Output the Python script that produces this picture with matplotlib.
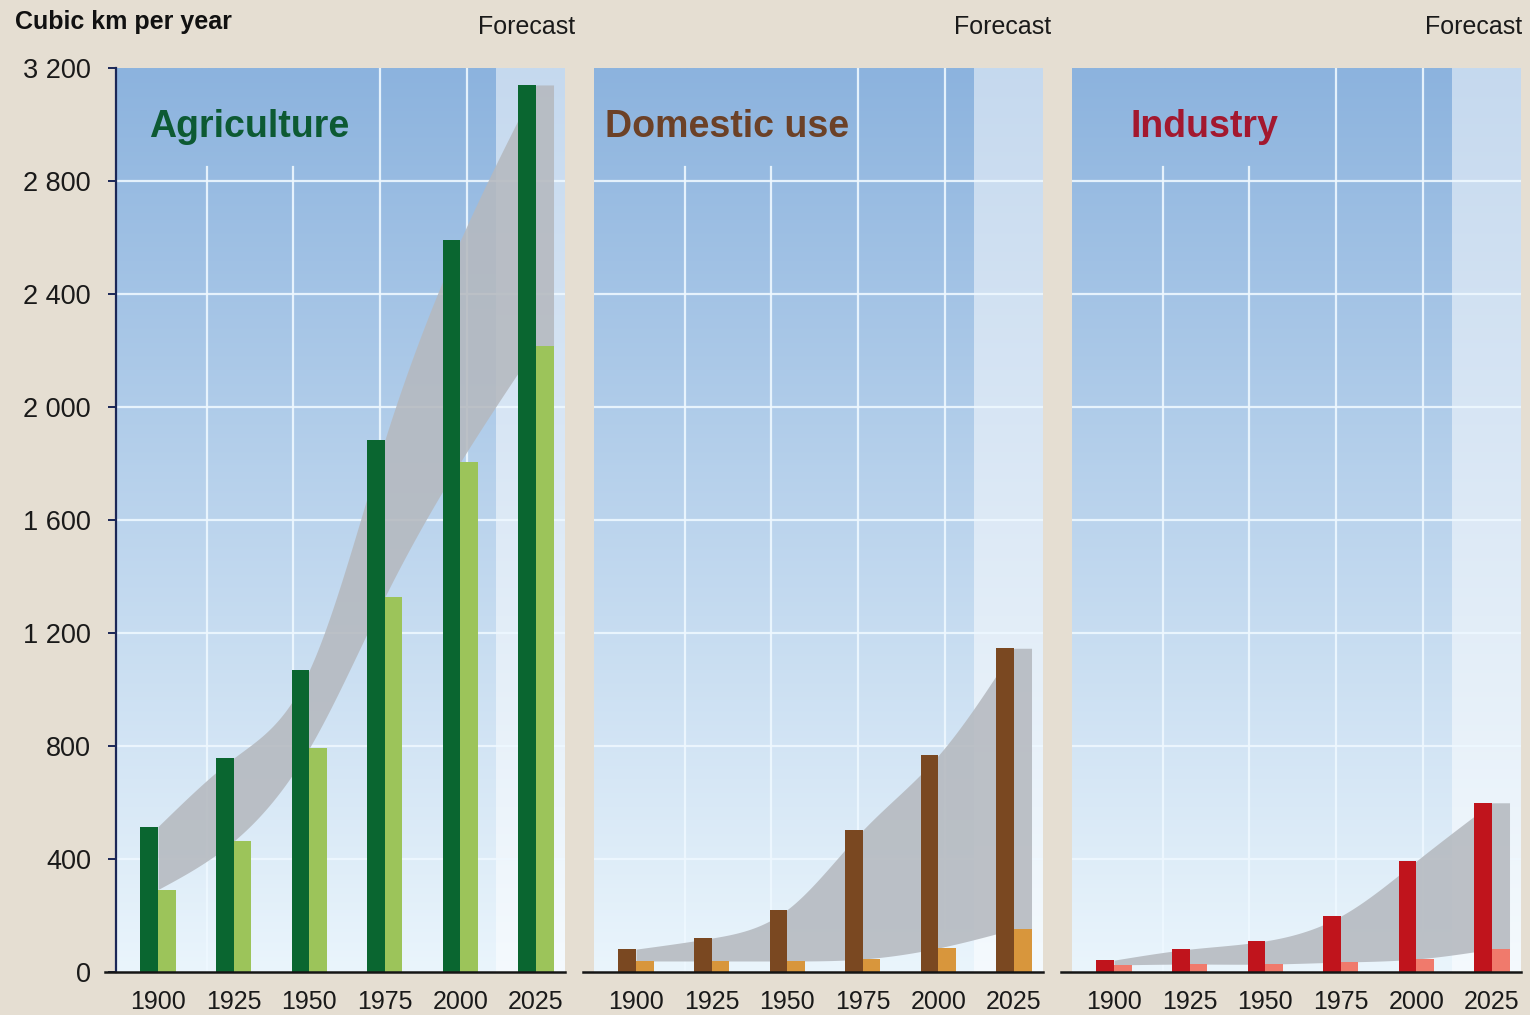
import numpy as np
import matplotlib
matplotlib.use("Agg")
import matplotlib.pyplot as plt
from matplotlib.colors import to_rgb
from matplotlib.lines import Line2D

# ---------------- data ----------------
years = [1900, 1925, 1950, 1975, 2000, 2025]
year_labels = ["1900", "1925", "1950", "1975", "2000", "2025"]
sectors = ["Agriculture", "Domestic use", "Industry"]

agri_withdrawal = [515, 757, 1068, 1883, 2590, 3140]
agri_consumption = [292, 463, 792, 1327, 1805, 2215]
dom_withdrawal = [81, 120, 221, 502, 767, 1146]
dom_consumption = [39, 39, 39, 46, 85, 152]
ind_withdrawal = [42, 81, 110, 198, 393, 599]
ind_consumption = [25, 28, 28, 35, 46, 81]

y_ticks = [0, 400, 800, 1200, 1600, 2000, 2400, 2800, 3200]
y_tick_labels = ["0", "400", "800", "1 200", "1 600", "2 000", "2 400", "2 800", "3 200"]
forecast_start = 2011.8
unit_label = "Cubic km per year"
forecast_label = "Forecast"

withdrawals = [agri_withdrawal, dom_withdrawal, ind_withdrawal]
consumptions = [agri_consumption, dom_consumption, ind_consumption]

# ---------------- styles ----------------
dark_colors = ["#0a6630", "#7a4821", "#c0141c"]
light_colors = ["#9cc45a", "#d8963c", "#f07a6c"]
title_colors = ["#0d5a33", "#6c4127", "#a3182f"]
fig_bg = "#e5ded2"
band_color = "#b5b9bf"
grad_top = to_rgb("#8cb3de")
grad_bot = to_rgb("#eaf5fc")

W, H = 1530, 1015
fig = plt.figure(figsize=(W / 100, H / 100), dpi=100, facecolor=fig_bg)

panel_left_px = [116, 594, 1072]
panel_w_px = 449
top_px, bot_px = 68, 972
forecast_label_px = [575, 1051, 1522]
xlim = (1886.1, 2034.6)
bw = 5.8
grid_fracs = [0.2027, 0.3942, 0.588, 0.7817]
title_cover = 0.89


def natural_spline(xk, yk, x):
    xk = np.asarray(xk, float)
    yk = np.asarray(yk, float)
    n = len(xk)
    h = np.diff(xk)
    A = np.zeros((n, n))
    b = np.zeros(n)
    A[0, 0] = 1.0
    A[-1, -1] = 1.0
    for i in range(1, n - 1):
        A[i, i - 1] = h[i - 1]
        A[i, i] = 2 * (h[i - 1] + h[i])
        A[i, i + 1] = h[i]
        b[i] = 6 * ((yk[i + 1] - yk[i]) / h[i] - (yk[i] - yk[i - 1]) / h[i - 1])
    M = np.linalg.solve(A, b)
    x = np.asarray(x, float)
    out = np.empty_like(x)
    for j, xv in enumerate(x):
        if xv <= xk[0]:
            out[j] = yk[0]
            continue
        if xv >= xk[-1]:
            out[j] = yk[-1]
            continue
        i = min(np.searchsorted(xk, xv) - 1, n - 2)
        a = xk[i + 1] - xv
        c = xv - xk[i]
        out[j] = (M[i] * a**3 / (6 * h[i]) + M[i + 1] * c**3 / (6 * h[i])
                  + (yk[i] / h[i] - M[i] * h[i] / 6) * a
                  + (yk[i + 1] / h[i] - M[i + 1] * h[i] / 6) * c)
    return out


font = ["Liberation Sans", "DejaVu Sans"]
plt.rcParams["font.family"] = font

ngrad = 256
tvals = np.linspace(0, 1, ngrad)[:, None]
grad = (np.array(grad_bot)[None, :] * (1 - tvals) + np.array(grad_top)[None, :] * tvals)
grad = grad[:, None, :]

for k in range(3):
    left = panel_left_px[k] / W
    bottom = (H - bot_px) / H
    ax = fig.add_axes([left, bottom, panel_w_px / W, (bot_px - top_px) / H])
    ax.set_facecolor("none")
    ax.imshow(grad, extent=[xlim[0], xlim[1], 0, 3200], aspect="auto",
              origin="lower", zorder=0, interpolation="bilinear")
    ax.axvspan(forecast_start, xlim[1], color="white", alpha=0.5, lw=0, zorder=1)

    # grid
    for yv in y_ticks[1:-1]:
        ax.axhline(yv, color="#eef8ff", lw=1.6, alpha=0.9, zorder=2)
    for i, gf in enumerate(grid_fracs):
        gx = xlim[0] + gf * (xlim[1] - xlim[0])
        ymax = title_cover if i < 2 else 1.0
        ax.axvline(gx, ymin=0, ymax=ymax, color="#eef8ff", lw=1.6, alpha=0.9, zorder=2)

    # band
    xs = np.linspace(years[0], years[-1] + bw, 600)
    up = natural_spline(years, withdrawals[k], xs)
    lo = natural_spline(years, consumptions[k], xs)
    ax.fill_between(xs, lo, up, color=band_color, alpha=0.88, lw=0, zorder=3)

    # bars
    xs_dark = [y - bw / 2 for y in years]
    xs_light = [y + bw / 2 for y in years]
    ax.bar(xs_dark, withdrawals[k], width=bw, color=dark_colors[k], zorder=4, lw=0)
    ax.bar(xs_light, consumptions[k], width=bw, color=light_colors[k], zorder=4, lw=0)

    ax.set_xlim(*xlim)
    ax.set_ylim(0, 3200)

    ax.set_xticks(years)
    ax.set_xticklabels(year_labels, fontsize=18, color="#1a1a1a")
    ax.tick_params(axis="x", length=0, pad=13)

    for s in ax.spines.values():
        s.set_visible(False)

    if k == 0:
        ax.spines["left"].set_visible(True)
        ax.spines["left"].set_color("#1b2757")
        ax.spines["left"].set_linewidth(1.6)
        ax.spines["left"].set_zorder(6)
        ax.set_yticks(y_ticks)
        ax.set_yticklabels(y_tick_labels, fontsize=19.5, color="#1a1a1a")
        ax.tick_params(axis="y", length=6, width=1.4, color="#1b2757", pad=12)
    else:
        ax.set_yticks([])

    ax.add_line(Line2D([-0.024, 1.0], [0, 0], transform=ax.transAxes,
                       color="#151515", lw=1.8, clip_on=False, zorder=7))

    ax.text(0.296, 0.935, sectors[k], transform=ax.transAxes, ha="center", va="center",
            fontsize=27, fontweight="bold", color=title_colors[k], zorder=8)

    fig.text(forecast_label_px[k] / W, 1 - 27 / H, forecast_label, ha="right", va="center",
             fontsize=18, color="#1a1a1a")

fig.text(15 / W, 1 - 22 / H, unit_label, ha="left", va="center", fontsize=18,
         fontweight="bold", color="#111111")

fig.savefig("out.png", dpi=100, facecolor=fig_bg)
